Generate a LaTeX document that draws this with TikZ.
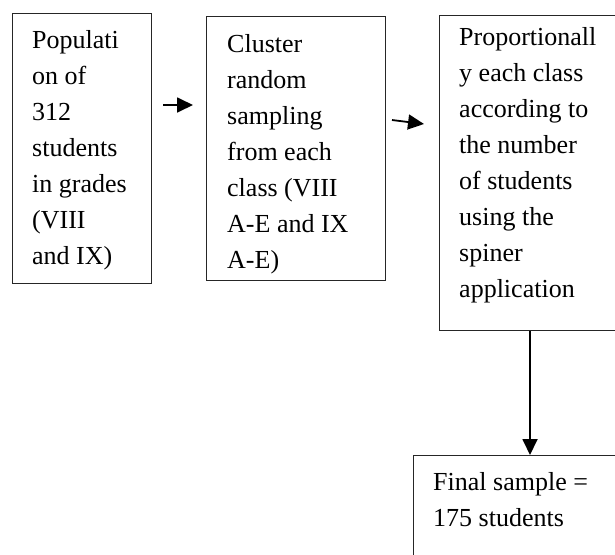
\documentclass[tikz,border=0pt]{standalone}
\usepackage{fontspec}
\setmainfont{Liberation Serif}
\usetikzlibrary{arrows.meta}
\tikzset{
  boxframe/.style={draw=black!85, line width=1.1pt, inner sep=0pt, anchor=north west},
  txt/.style={anchor=base west, inner sep=0pt, font=\fontsize{26}{36}\selectfont},
  flowarrow/.style={line width=1.8pt, -{Triangle[length=16pt,width=15pt]}}
}
\begin{document}
\begin{tikzpicture}[x=1pt,y=-1pt]
\useasboundingbox (0,0) rectangle (615,554);
\clip (0,0) rectangle (615,554);
% boxes
\node[boxframe, minimum width=139pt, minimum height=270pt] (b1) at (12,13) {};
\node[boxframe, minimum width=179pt, minimum height=264pt] (b2) at (206,16) {};
\node[boxframe, minimum width=180pt, minimum height=315pt] (b3) at (439,15) {};
\node[boxframe, minimum width=210pt, minimum height=120pt] (b4) at (413,455) {};
% texts
\node[txt] (t1) at (32,48) {\begin{tabular}[t]{@{}l@{}}Populati\\on of\\312\\students\\in grades\\(VIII\\and IX)\end{tabular}};
\node[txt] (t2) at (227,52) {\begin{tabular}[t]{@{}l@{}}Cluster\\random\\sampling\\from each\\class (VIII\\A-E and IX\\A-E)\end{tabular}};
\node[txt] (t3) at (459,45) {\begin{tabular}[t]{@{}l@{}}Proportionall\\y each class\\according to\\the number\\of students\\using the\\spiner\\application\end{tabular}};
\node[txt] (t4) at (433,490) {\begin{tabular}[t]{@{}l@{}}Final sample =\\175 students\end{tabular}};
% arrow end points
\coordinate (a1s) at (163,105);
\coordinate (a1e) at (193,105);
\coordinate (a2s) at (392,120);
\coordinate (a2e) at (424,124);
\coordinate (a3s) at (b3.south -| 530,0);
\coordinate (a3e) at (b4.north -| 530,0);
\draw[flowarrow] (a1s) -- (a1e);
\draw[flowarrow] (a2s) -- (a2e);
\draw[flowarrow] (a3s) -- (a3e);
\end{tikzpicture}
\end{document}
